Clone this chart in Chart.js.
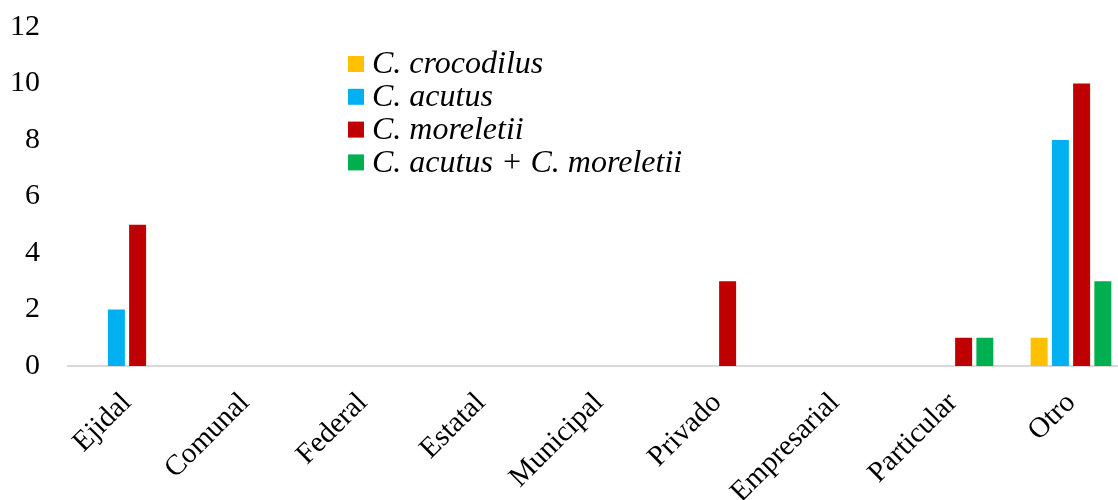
<!DOCTYPE html>
<html>
<head>
<meta charset="utf-8">
<script src="https://cdn.jsdelivr.net/npm/chart.js@4"></script>
<style>
  html, body { margin: 0; padding: 0; background: #fff; overflow: hidden; }
  #wrap { width: 1130px; height: 511px; margin-top: -11px; position: relative; }
</style>
</head>
<body>
<div id="wrap"><canvas id="myChart"></canvas></div>
<script>
// categories and values
const categories = ['Ejidal', 'Comunal', 'Federal', 'Estatal', 'Municipal', 'Privado', 'Empresarial', 'Particular', 'Otro'];
const crocodilus = [0, 0, 0, 0, 0, 0, 0, 0, 1];
const acutus = [2, 0, 0, 0, 0, 0, 0, 0, 8];
const moreletii = [5, 0, 0, 0, 0, 3, 0, 1, 10];
const acutusMoreletii = [0, 0, 0, 0, 0, 0, 0, 1, 3];
const seriesNames = ['C. crocodilus', 'C. acutus', 'C. moreletii', 'C. acutus + C. moreletii'];
const yTicks = [0, 2, 4, 6, 8, 10, 12];

const colors = ['#FFC000', '#00B0F0', '#C00000', '#00B050'];
const serif = "'Liberation Serif', 'Times New Roman', serif";

// legend drawn by hand, sitting inside the plot (canvas is shifted up 11px)
const floatLegend = {
  id: 'floatLegend',
  afterDraw(chart) {
    const ctx = chart.ctx;
    ctx.save();
    ctx.font = 'italic 32px ' + serif;
    ctx.textBaseline = 'middle';
    chart.data.datasets.forEach((ds, i) => {
      const y = 75 + i * 32.8;
      ctx.fillStyle = ds.backgroundColor;
      ctx.fillRect(348, y - 8, 16, 16);
      ctx.fillStyle = '#000';
      ctx.fillText(ds.label, 372, y + 1);
    });
    ctx.restore();
  }
};

const data = [crocodilus, acutus, moreletii, acutusMoreletii];

const ctx = document.getElementById('myChart').getContext('2d');
const myChart = new Chart(ctx, {
  type: 'bar',
  data: {
    labels: categories,
    datasets: data.map((vals, i) => ({
      label: seriesNames[i],
      data: vals,
      backgroundColor: colors[i],
      borderWidth: 0,
      categoryPercentage: 0.72,
      barPercentage: 0.8
    }))
  },
  options: {
    responsive: true,
    maintainAspectRatio: false,
    animation: false,
    layout: { padding: { top: -7, left: 0, right: 0, bottom: 0 } },
    plugins: {
      legend: { display: false },
      tooltip: { enabled: false }
    },
    scales: {
      x: {
        grid: { display: false },
        border: { display: true, color: '#d9d9d9', width: 2 },
        ticks: {
          color: '#000',
          font: { family: serif, size: 29 },
          minRotation: 45,
          maxRotation: 45,
          padding: 12
        },
        afterFit: s => { s.height = 134; }
      },
      y: {
        min: 0,
        max: 12,
        grid: { display: false },
        border: { display: false },
        afterBuildTicks: s => { s.ticks = yTicks.map(v => ({ value: v })); },
        ticks: {
          color: '#000',
          font: { family: serif, size: 30 },
          padding: 20
        },
        afterFit: s => { s.width = 68; }
      }
    }
  },
  plugins: [floatLegend]
});
</script>
</body>
</html>
